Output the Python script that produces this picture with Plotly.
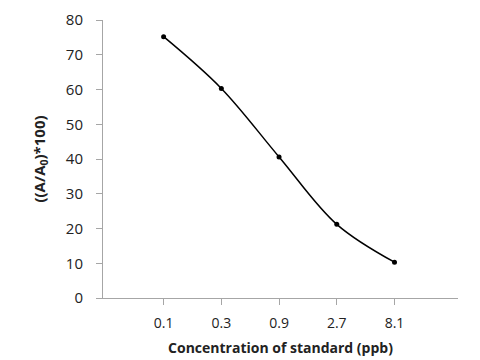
import plotly.graph_objects as go

categories = ["0.1", "0.3", "0.9", "2.7", "8.1"]
values = [75.2, 60.3, 40.6, 21.2, 10.3]
y_ticks = [0, 10, 20, 30, 40, 50, 60, 70, 80]

fig = go.Figure()
fig.add_trace(go.Scatter(
    x=categories, y=values, mode="lines+markers",
    line=dict(color="black", width=1.5, shape="spline", smoothing=1),
    marker=dict(color="black", size=5),
    showlegend=False,
))

font_family = "Open Sans, Liberation Sans, sans-serif"
fig.update_layout(
    width=480, height=360,
    margin=dict(l=95, r=30, t=12, b=70, autoexpand=False),
    plot_bgcolor="white", paper_bgcolor="white",
    font=dict(family=font_family, size=14, color="#222"),
)
fig.update_xaxes(
    type="category", range=[-1.05, 5.1], automargin=False,
    showline=True, linecolor="#a6a6a6", linewidth=1,
    ticks="outside", ticklen=6, tickcolor="#a6a6a6",
    ticklabelstandoff=6,
    showgrid=False, zeroline=False,
    tickfont=dict(size=14),
    title=dict(text="<b>Concentration of standard (ppb)</b>", font=dict(size=14), standoff=12),
)
fig.update_yaxes(
    range=[0, 80], tickvals=y_ticks, automargin=False,
    showline=True, linecolor="#a6a6a6", linewidth=1,
    ticks="outside", ticklen=6, tickcolor="#a6a6a6",
    ticklabelstandoff=10,
    showgrid=False, zeroline=False,
    tickfont=dict(size=15),
    title=dict(text="<b>((A/A<sub>0</sub>)*100)</b>", font=dict(size=15), standoff=16),
)

fig.write_html("out.html")
